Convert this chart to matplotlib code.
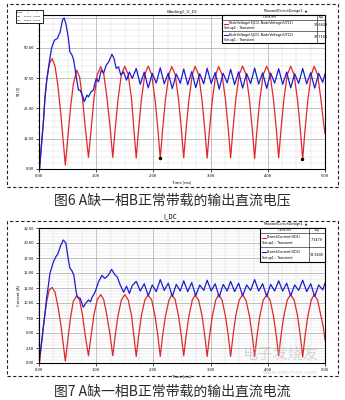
#!/usr/bin/env python3
"""
缺相运行仿真结果 - 输出直流电压 / 直流电流 波形复现
"""

import matplotlib
matplotlib.use("Agg")
import matplotlib.pyplot as plt
from matplotlib.patches import Rectangle
from matplotlib.lines import Line2D
from matplotlib.ticker import FormatStrFormatter, MultipleLocator

plt.rcParams['font.family'] = ['Noto Sans CJK SC', 'DejaVu Sans']

# ---------------- 数据 ----------------
# 图6 输出直流电压, 红线 (A缺一相)
u_red_t = [0.01, 0.05, 0.075, 0.105, 0.135, 0.18, 0.23, 0.28, 0.33, 0.38, 0.42, 0.46,
           0.50, 0.55, 0.60, 0.66, 0.71, 0.76, 0.81, 0.865,
           0.91, 0.96, 1.02, 1.08, 1.13, 1.18, 1.24, 1.29,
           1.33, 1.38, 1.44, 1.50, 1.56, 1.62, 1.66, 1.70,
           1.74, 1.79, 1.85, 1.91, 1.97, 2.03, 2.08, 2.12,
           2.16, 2.21, 2.27, 2.32, 2.38, 2.44, 2.49, 2.53,
           2.57, 2.62, 2.68, 2.73, 2.79, 2.85, 2.90, 2.94,
           2.98, 3.03, 3.09, 3.14, 3.20, 3.26, 3.31, 3.35,
           3.39, 3.44, 3.50, 3.56, 3.62, 3.68, 3.73, 3.77,
           3.81, 3.86, 3.92, 3.98, 4.04, 4.10, 4.15, 4.19,
           4.23, 4.28, 4.34, 4.40, 4.46, 4.52, 4.57, 4.61,
           4.65, 4.70, 4.76, 4.81, 4.87, 4.93, 4.97, 5.00]
u_red_v = [0.0, 12.0, 19.0, 29.5, 36.5, 43.5, 45.6, 42.5, 34.5, 23.0, 12.5, 1.6,
           12.0, 25.0, 35.0, 40.8, 38.0, 29.0, 17.0, 4.8,
           16.0, 29.0, 39.0, 42.3, 39.5, 31.0, 18.0, 4.8,
           16.0, 28.5, 39.0, 42.4, 39.0, 28.5, 16.0, 4.5,
           16.2, 28.6, 39.1, 42.5, 39.0, 28.4, 16.0, 4.4,
           16.0, 28.5, 39.0, 42.3, 39.1, 28.6, 16.1, 4.6,
           16.1, 28.5, 39.0, 42.4, 39.0, 28.5, 16.0, 4.5,
           16.0, 28.4, 38.9, 42.3, 39.0, 28.6, 16.2, 4.6,
           16.1, 28.6, 39.1, 42.5, 39.0, 28.5, 16.0, 4.4,
           16.0, 28.5, 39.0, 42.4, 39.1, 28.5, 16.1, 4.6,
           16.1, 28.5, 39.0, 42.4, 39.0, 28.4, 16.0, 4.0,
           16.0, 28.5, 39.0, 42.4, 39.0, 28.5, 20.0, 14.7]

# 图6 输出直流电压, 蓝线 (B正常带载)
u_blue_t = [0.01, 0.05, 0.075, 0.105, 0.135, 0.19, 0.22, 0.27, 0.32, 0.37, 0.41, 0.44,
            0.47, 0.51, 0.54, 0.57, 0.60, 0.63, 0.66, 0.69, 0.72, 0.77, 0.79, 0.84,
            0.865, 0.91, 0.95, 1.00, 1.04, 1.09, 1.13, 1.175, 1.22, 1.275, 1.31, 1.35,
            1.39, 1.43, 1.48, 1.53, 1.58, 1.63, 1.70,
            1.77, 1.84, 1.91, 1.98, 2.05, 2.12, 2.19, 2.26, 2.33, 2.40, 2.47,
            2.53, 2.60, 2.67, 2.74, 2.81, 2.88, 2.94, 3.01, 3.08, 3.15, 3.22, 3.29,
            3.35, 3.42, 3.49, 3.56, 3.63, 3.70, 3.77, 3.84, 3.91, 3.98, 4.05, 4.12,
            4.19, 4.26, 4.33, 4.40, 4.47, 4.54, 4.61, 4.68, 4.75, 4.82, 4.89, 4.96, 5.00]
u_blue_v = [0.4, 12.0, 18.8, 29.8, 36.7, 45.6, 50.0, 53.2, 53.9, 56.6, 61.5, 62.4,
            60.0, 54.6, 48.4, 47.4, 45.6, 41.5, 36.7, 32.6, 32.5, 29.8, 27.8, 30.5,
            29.8, 31.9, 32.6, 37.4, 36.0, 40.8, 39.6, 42.9, 44.3, 47.4, 45.7, 41.5,
            42.2, 38.8, 40.1, 36.7, 40.0, 37.4, 41.5,
            35.0, 40.0, 33.5, 39.5, 35.5, 41.8, 35.2, 39.6, 33.2, 39.2, 35.4,
            41.3, 34.8, 40.2, 33.6, 39.3, 35.2, 41.6, 35.3, 39.8, 33.0, 39.5, 35.6,
            41.2, 34.9, 40.1, 33.4, 39.4, 35.3, 41.7, 35.1, 39.7, 33.3, 39.6, 35.5,
            41.4, 35.0, 40.0, 33.5, 39.3, 35.4, 41.5, 35.2, 39.8, 33.4, 39.5, 35.8, 39.2]

# 图7 输出直流电流, 红线
i_red_t = u_red_t
i_red_v = [0.0, 3.8, 6.0, 8.3, 10.3, 12.2, 12.6, 11.8, 9.5, 6.5, 3.5, 0.3,
           3.5, 7.5, 10.3, 11.2, 10.5, 8.0, 4.5, 1.2,
           4.5, 8.0, 10.6, 11.4, 10.6, 8.3, 4.8, 1.2,
           4.4, 7.8, 10.5, 11.4, 10.5, 7.8, 4.4, 1.1,
           4.4, 7.9, 10.5, 11.3, 10.5, 7.8, 4.4, 1.1,
           4.5, 7.8, 10.4, 11.4, 10.6, 7.8, 4.4, 1.2,
           4.4, 7.8, 10.5, 11.3, 10.5, 7.9, 4.4, 1.1,
           4.4, 7.8, 10.5, 11.4, 10.5, 7.8, 4.5, 1.1,
           4.4, 7.9, 10.5, 11.4, 10.4, 7.8, 4.4, 1.1,
           4.4, 7.8, 10.5, 11.3, 10.5, 7.8, 4.4, 1.2,
           4.5, 7.8, 10.5, 11.4, 10.5, 7.9, 4.4, 1.0,
           4.4, 7.8, 10.5, 11.4, 10.5, 7.8, 6.0, 3.8]

# 图7 输出直流电流, 蓝线
i_blue_t = [0.0, 0.05, 0.105, 0.135, 0.165, 0.19, 0.25, 0.30, 0.33, 0.38, 0.425, 0.47,
            0.51, 0.54, 0.57, 0.61, 0.65, 0.67, 0.72, 0.775, 0.82, 0.865, 0.90, 0.93,
            0.98, 1.04, 1.10, 1.15, 1.21, 1.27, 1.32, 1.37, 1.42, 1.48, 1.53, 1.58,
            1.63, 1.70,
            1.77, 1.84, 1.91, 1.98, 2.05, 2.12, 2.19, 2.26, 2.33, 2.40, 2.47,
            2.53, 2.60, 2.67, 2.74, 2.81, 2.88, 2.94, 3.01, 3.08, 3.15, 3.22, 3.29,
            3.35, 3.42, 3.49, 3.56, 3.63, 3.70, 3.77, 3.84, 3.91, 3.98, 4.05, 4.12,
            4.19, 4.26, 4.33, 4.40, 4.47, 4.54, 4.61, 4.68, 4.75, 4.82, 4.89, 4.96, 5.00]
i_blue_v = [0.2, 3.8, 8.3, 11.0, 13.0, 14.9, 16.8, 17.8, 18.2, 19.6, 20.5, 20.0,
            17.4, 15.8, 15.5, 14.6, 11.8, 11.0, 10.8, 9.3, 10.0, 10.5, 10.2, 11.0,
            11.8, 13.5, 14.6, 14.1, 14.6, 15.6, 14.8, 14.3, 13.0, 11.8, 12.8, 11.6,
            12.9, 13.6,
            12.0, 13.2, 11.2, 13.0, 11.9, 13.9, 12.1, 13.3, 11.1, 13.1, 12.0,
            13.7, 11.9, 13.4, 11.2, 13.0, 12.1, 13.8, 12.0, 13.2, 11.0, 13.1, 12.0,
            13.6, 11.9, 13.3, 11.2, 13.0, 12.1, 13.9, 12.0, 13.2, 11.1, 13.1, 12.0,
            13.7, 12.0, 13.3, 11.2, 13.0, 12.1, 13.8, 11.9, 13.2, 11.1, 13.0, 12.2, 13.3]

# 图例文字
u_names = ['NodeVoltage(SJ11)-NodeVoltage(UY21)', 'NodeVoltage(SJ21)-NodeVoltage(UY22)']
u_avg = ['37.6609', '37.7164']
i_names = ['BranchCurrent(VD1)', 'BranchCurrent(VD2)']
i_avg = ['7.3479', '13.5600']

# 标记点 m1, m2
mark_t = [2.12, 4.60]
mark_v = [4.4, 4.0]

RED = '#e0282a'
BLUE = '#1c1cd2'
W, H = 345.0, 400.0


def fx(x):
    return x / W


def fy(y):
    return 1 - y / H


def style_axes(ax, ymax, ymajor, yminor, ylabel):
    """设置坐标轴、网格和刻度"""
    ax.set_xlim(0, 5)
    ax.set_ylim(0, ymax)
    ax.xaxis.set_major_locator(MultipleLocator(1.0))
    ax.xaxis.set_minor_locator(MultipleLocator(0.25))
    ax.yaxis.set_major_locator(MultipleLocator(ymajor))
    ax.yaxis.set_minor_locator(MultipleLocator(yminor))
    ax.xaxis.set_major_formatter(FormatStrFormatter('%.2f'))
    ax.yaxis.set_major_formatter(FormatStrFormatter('%.2f'))
    ax.grid(True, which='major', color='#a8a8a8', lw=0.5)
    ax.grid(True, which='minor', color='#dadada', lw=0.35)
    ax.set_axisbelow(True)
    ax.tick_params(which='major', labelsize=3, length=2, width=0.5, pad=1.5)
    ax.tick_params(which='minor', length=1, width=0.3)
    ax.tick_params(axis='x', which='both', top=False)
    ax.tick_params(axis='y', which='both', right=False)
    for s in ax.spines.values():
        s.set_linewidth(0.8)
    ax.set_xlabel('Time [ms]', fontsize=3, labelpad=2)
    ax.set_ylabel(ylabel, fontsize=3, labelpad=2)


def draw_legend(fig, x0, x1, y0, y1, xval, names, avgs):
    """模仿仿真软件的曲线信息表"""
    fig.add_artist(Rectangle((fx(x0), fy(y1)), fx(x1 - x0), (y1 - y0) / H,
                             transform=fig.transFigure, facecolor='white',
                             edgecolor='black', lw=0.8, zorder=5))
    hh = 4.5
    rh = (y1 - y0 - hh) / 2
    fig.add_artist(Line2D([fx(xval), fx(xval)], [fy(y0), fy(y1)],
                          transform=fig.transFigure, color='black', lw=0.4, zorder=6))
    fig.add_artist(Line2D([fx(x0), fx(x1)], [fy(y0 + hh), fy(y0 + hh)],
                          transform=fig.transFigure, color='black', lw=0.4, zorder=6))
    fig.text(fx((x0 + xval) / 2), fy(y0 + hh / 2), 'Curve Info', fontsize=1.8,
             ha='center', va='center', zorder=7, family='DejaVu Sans')
    fig.text(fx((xval + x1) / 2), fy(y0 + hh / 2), 'avg', fontsize=1.8,
             ha='center', va='center', zorder=7, family='DejaVu Sans')
    for k, (name, val, col) in enumerate(zip(names, avgs, [RED, BLUE])):
        top = y0 + hh + k * rh
        if k > 0:
            fig.add_artist(Line2D([fx(x0), fx(x1)], [fy(top), fy(top)],
                                  transform=fig.transFigure, color='black', lw=0.4, zorder=6))
        fig.add_artist(Line2D([fx(x0 + 1.5), fx(x0 + 6)], [fy(top + rh * 0.35)] * 2,
                              transform=fig.transFigure, color=col, lw=0.8, zorder=7))
        fig.text(fx(x0 + 7), fy(top + rh * 0.33), name, fontsize=2.4, va='center',
                 zorder=7, family='DejaVu Sans')
        fig.text(fx(x0 + 1.5), fy(top + rh * 0.72), 'Setup1 : Transient', fontsize=2.4,
                 va='center', zorder=7, family='DejaVu Sans')
        fig.text(fx((xval + x1) / 2), fy(top + rh * 0.5), val, fontsize=2.4,
                 ha='center', va='center', zorder=7, family='DejaVu Sans')


def main():
    fig = plt.figure(figsize=(3.45, 4.0), dpi=100)
    fig.patch.set_facecolor('white')

    # 虚线外框
    for y_top, y_bot in [(4, 187), (221, 376)]:
        fig.add_artist(Rectangle((fx(7), fy(y_bot)), fx(331), (y_bot - y_top) / H,
                                 transform=fig.transFigure, fill=False,
                                 edgecolor='#222222', lw=0.8, ls=(0, (3, 2))))

    # ---- 图6 电压 ----
    ax1 = fig.add_axes([fx(39), fy(169), fx(286), 154 / H])
    ax1.plot(u_red_t, u_red_v, color=RED, lw=0.9)
    ax1.plot(u_blue_t, u_blue_v, color=BLUE, lw=0.9)
    ax1.plot(mark_t, mark_v, 'o', color='black', ms=1.5)
    style_axes(ax1, 63.6, 12.5, 2.5, 'Y1 [V]')
    fig.text(fx(183), fy(12), 'Winding1_U_DC', fontsize=3, ha='center', va='center')
    fig.text(fx(286), fy(11), 'MaxwellCircuitDesign1  \u25b2', fontsize=2.4,
             ha='center', va='center', family='DejaVu Sans')
    draw_legend(fig, 222, 325, 15, 43, 316.5, u_names, u_avg)

    # 左上角标记表
    fig.add_artist(Rectangle((fx(16), fy(23)), fx(27), 13 / H, transform=fig.transFigure,
                             facecolor='white', edgecolor='black', lw=0.6, zorder=5))
    rows = [('Name', 'X', 'Y'), ('m1', '2.1200', '4.4291'), ('m2', '4.6000', '4.0216')]
    for r, row in enumerate(rows):
        for c, txt in enumerate(row):
            fig.text(fx(19 + c * 9), fy(12.2 + r * 4.2), txt, fontsize=1.7, ha='center',
                     va='center', zorder=6, family='DejaVu Sans')

    fig.text(fx(172), fy(200), '图6 A缺一相B正常带载的输出直流电压', fontsize=10,
             ha='center', va='center', color='#2a2a2a')

    # ---- 图7 电流 ----
    ax2 = fig.add_axes([fx(39), fy(363), fx(286), 135 / H])
    ax2.plot(i_red_t, i_red_v, color=RED, lw=0.9)
    ax2.plot(i_blue_t, i_blue_v, color=BLUE, lw=0.9)
    style_axes(ax2, 22.5, 2.5, 0.5, 'Current [A]')
    fig.text(fx(170), fy(216), 'I_DC', fontsize=4.5, ha='center', va='center')
    fig.text(fx(286), fy(224), 'MaxwellCircuitDesign1  \u25b2', fontsize=2.4,
             ha='center', va='center', family='DejaVu Sans')
    draw_legend(fig, 260, 325, 228, 262, 309, i_names, i_avg)

    fig.text(fx(172), fy(392), '图7 A缺一相B正常带载的输出直流电流', fontsize=10,
             ha='center', va='center', color='#2a2a2a')

    # 水印 (放在刻度文字之间, 避免重叠)
    fig.text(fx(280), fy(354), '电子发烧友', fontsize=11, ha='center', va='center',
             color='#b8b8b8', alpha=0.55, style='italic', zorder=8)
    fig.text(fx(290), fy(373), 'www.elecfans.com', fontsize=4.2, ha='center', va='center',
             color='#b8b8b8', alpha=0.6, zorder=8, family='DejaVu Sans')

    fig.savefig('out.png', dpi=100, facecolor='white')
    print("图表已保存为: out.png")


if __name__ == "__main__":
    main()
